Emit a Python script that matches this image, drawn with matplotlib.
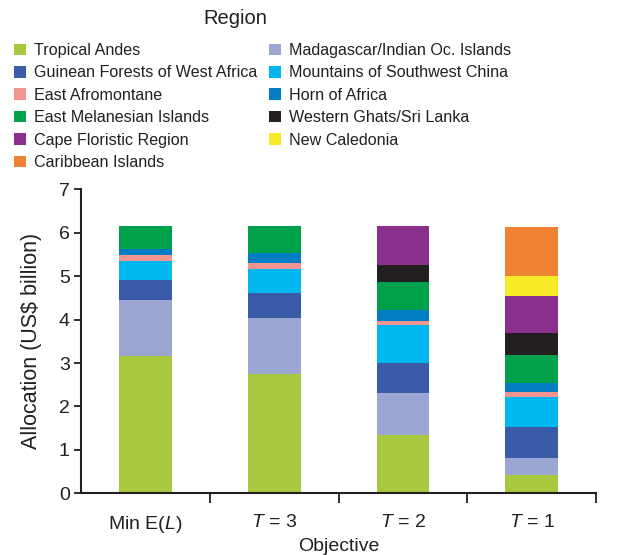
import matplotlib.pyplot as plt
from matplotlib.patches import Patch
import numpy as np

plt.rcParams['font.family'] = ['Liberation Sans', 'DejaVu Sans']
plt.rcParams['mathtext.fontset'] = 'custom'
plt.rcParams['mathtext.it'] = 'Liberation Sans:italic'
plt.rcParams['mathtext.rm'] = 'Liberation Sans'

objectives = ['Min E($\\mathit{L}$)', '$T$ = 3', '$T$ = 2', '$T$ = 1']

regions = ['Tropical Andes', 'Madagascar/Indian Oc. Islands',
           'Guinean Forests of West Africa', 'Mountains of Southwest China',
           'East Afromontane', 'Horn of Africa', 'East Melanesian Islands',
           'Western Ghats/Sri Lanka', 'Cape Floristic Region',
           'New Caledonia', 'Caribbean Islands']

colors = ['#A8C83F', '#9BA6D2', '#3A5BA7', '#00B7EF', '#F4948F', '#007DC3',
          '#00A14B', '#231F20', '#8B2F8C', '#F7EA27', '#F08233']

# allocation per region (US$ billion), one value per objective
tropical_andes = [3.16, 2.75, 1.34, 0.42]
madagascar = [1.29, 1.29, 0.98, 0.39]
guinean_forests = [0.46, 0.57, 0.69, 0.72]
sw_china = [0.44, 0.55, 0.87, 0.69]
east_afromontane = [0.14, 0.14, 0.09, 0.11]
horn_of_africa = [0.13, 0.23, 0.26, 0.21]
east_melanesian = [0.53, 0.62, 0.64, 0.65]
western_ghats = [0.0, 0.0, 0.39, 0.50]
cape_floristic = [0.0, 0.0, 0.89, 0.85]
new_caledonia = [0.0, 0.0, 0.0, 0.47]
caribbean = [0.0, 0.0, 0.0, 1.12]

series = [tropical_andes, madagascar, guinean_forests, sw_china,
          east_afromontane, horn_of_africa, east_melanesian, western_ghats,
          cape_floristic, new_caledonia, caribbean]

ink = '#231F20'

fig = plt.figure(figsize=(6.37, 5.55), dpi=100)
ax = fig.add_axes([0.127, 0.111, 0.809, 0.548])

x = np.arange(len(objectives))
bottom = np.zeros(len(objectives))
for vals, col in zip(series, colors):
    ax.bar(x, vals, width=0.41, bottom=bottom, color=col, linewidth=0)
    bottom += np.array(vals)

ax.set_xlim(-0.5, 3.5)
ax.set_ylim(0, 7)
ax.set_yticks(range(8))
ax.set_xticks(x)
ax.set_xticklabels(objectives)
ax.set_xticks([0.5, 1.5, 2.5, 3.5], minor=True)
ax.tick_params(axis='x', which='major', length=0, pad=15, labelsize=14, colors=ink)
ax.tick_params(axis='x', which='minor', length=7, width=1.3, direction='out', color=ink)
ax.tick_params(axis='y', length=5, width=1.3, direction='out', labelsize=14, colors=ink, pad=3)

for side in ['top', 'right']:
    ax.spines[side].set_visible(False)
for side in ['left', 'bottom']:
    ax.spines[side].set_color(ink)
    ax.spines[side].set_linewidth(1.5)

ax.set_ylabel('Allocation (US\\$ billion)', fontsize=15.5, color=ink, labelpad=12)
ax.set_xlabel('Objective', fontsize=14, color=ink, labelpad=2)

# legend laid out in two columns: left column gets every other region
order = [0, 2, 4, 6, 8, 10, 1, 3, 5, 7, 9]
handles = [Patch(facecolor=colors[i], edgecolor='none') for i in order]
labels = [regions[i] for i in order]
leg = fig.legend(handles, labels, ncol=2, loc='upper left',
                 bbox_to_anchor=(14 / 637, 1 - 43 / 555), frameon=False,
                 fontsize=11.6, handlelength=0.72, handleheight=0.72,
                 handletextpad=0.5, columnspacing=0.75, labelspacing=0.46,
                 borderpad=0, borderaxespad=0)
for t in leg.get_texts():
    t.set_color(ink)
fig.text(235 / 637, 1 - 19 / 555, 'Region', ha='center', va='center',
         fontsize=14.5, color=ink)

fig.savefig('out.png', dpi=100)
